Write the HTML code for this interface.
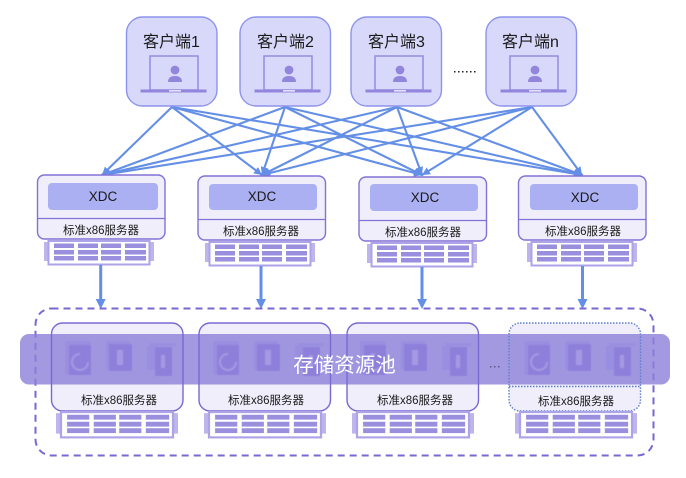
<!DOCTYPE html>
<html><head><meta charset="utf-8"><style>
html,body{margin:0;padding:0;background:#fff;width:686px;height:478px;overflow:hidden}
svg{display:block}
text{font-family:"Liberation Sans","Noto Sans CJK SC",sans-serif;fill:#1a1a1a}
.c{font-size:16px;text-anchor:middle}
.x{font-size:13.5px;text-anchor:middle}
.s{font-size:11.5px;text-anchor:middle}
</style></head><body>
<svg width="686" height="478" viewBox="0 0 686 478" xmlns="http://www.w3.org/2000/svg">
<defs>
<marker id="ah" markerUnits="userSpaceOnUse" markerWidth="10" markerHeight="10" refX="8" refY="4" orient="auto">
  <path d="M0 0L8 4L0 8z" fill="#648fe6"/>
</marker>
<filter id="soft" x="-5%" y="-5%" width="110%" height="110%"><feGaussianBlur stdDeviation="0.5"/></filter>
<symbol id="lap" width="70" height="40" viewBox="0 0 70 40" overflow="visible">
  <rect x="10" y="1" width="48" height="34" fill="none" stroke="#9c90e2" stroke-width="1.6"/>
  <rect x="0.5" y="34.5" width="66" height="3" fill="#9286dc"/>
  <rect x="29" y="35" width="12" height="1.6" fill="#e4e2fa"/>
  <circle cx="35" cy="15" r="4.4" fill="#9286dc"/>
  <path d="M28 27 q0-6 7-6 q7 0 7 6 z" fill="#9286dc"/>
</symbol>
<symbol id="srv" width="110" height="26" viewBox="0 0 110 26">
  <rect x="0" y="2" width="4" height="19" fill="#bdb5ec"/>
  <rect x="106" y="2" width="4" height="19" fill="#bdb5ec"/>
  <rect x="4.5" y="1" width="101" height="23.500" fill="#fff" stroke="#ada3e8" stroke-width="2"/>
  <g fill="#9a8ede">
    <rect x="10" y="3.500" width="20" height="4.500"/><rect x="34" y="3.500" width="20" height="4.500"/><rect x="57" y="3.500" width="20" height="4.500"/><rect x="81" y="3.500" width="21" height="4.500"/>
    <rect x="10" y="10" width="20" height="4.500"/><rect x="34" y="10" width="20" height="4.500"/><rect x="57" y="10" width="20" height="4.500"/><rect x="81" y="10" width="21" height="4.500"/>
    <rect x="10" y="16" width="20" height="4.500"/><rect x="34" y="16" width="20" height="4.500"/><rect x="57" y="16" width="20" height="4.500"/><rect x="81" y="16" width="21" height="4.500"/>
  </g>
</symbol>
<symbol id="icons" width="112" height="37" viewBox="0 0 112 37">
  <g fill="#8e80da" filter="url(#soft)">
    <rect x="0" y="1" width="26" height="34" rx="2" fill="#9a8ee0"/>
    <rect x="4" y="5" width="22" height="30" rx="1"/>
    <path d="M15 14a8 8 0 1 0 8 8" fill="none" stroke="#a599e4" stroke-width="2"/>
    <rect x="41" y="1" width="24" height="29" rx="2" fill="#9a8ee0"/>
    <rect x="44" y="4" width="23" height="27" rx="1"/>
    <rect x="52" y="10" width="6" height="15" fill="#a599e4"/>
    <rect x="82" y="6" width="8" height="24" fill="#9a8ee0"/>
    <rect x="90" y="7" width="17" height="29"/>
    <rect x="96" y="15" width="4" height="13" fill="#a599e4"/>
    <rect x="85" y="3" width="26" height="3" fill="#9a8ee0"/>
  </g>
</symbol>
</defs>

<!-- connectors -->
<g stroke="#648fe6" stroke-width="2.100" fill="none" stroke-linecap="round" marker-end="url(#ah)">
  <path d="M172 107L102 175" marker-end="url(#ah)"/><path d="M172 107L262 175" marker-end="url(#ah)"/><path d="M172 107L422 175" marker-end="url(#ah)"/><path d="M172 107L582 175" marker-end="url(#ah)"/>
  <path d="M285 107L102 175" marker-end="url(#ah)"/><path d="M285 107L262 175" marker-end="url(#ah)"/><path d="M285 107L422 175" marker-end="url(#ah)"/><path d="M285 107L582 175" marker-end="url(#ah)"/>
  <path d="M397 107L102 175" marker-end="url(#ah)"/><path d="M397 107L262 175" marker-end="url(#ah)"/><path d="M397 107L422 175" marker-end="url(#ah)"/><path d="M397 107L582 175" marker-end="url(#ah)"/>
  <path d="M532 107L102 175" marker-end="url(#ah)"/><path d="M532 107L262 175" marker-end="url(#ah)"/><path d="M532 107L422 175" marker-end="url(#ah)"/><path d="M532 107L582 175" marker-end="url(#ah)"/>
</g>

<!-- clients -->
<g fill="#d8d9fa" stroke="#8d93ec" stroke-width="1.400">
  <rect x="126.500" y="17" width="90.500" height="89" rx="16"/>
  <rect x="240" y="17" width="90.500" height="89" rx="16"/>
  <rect x="351" y="17" width="90.500" height="89" rx="16"/>
  <rect x="486" y="17" width="90.500" height="89" rx="16"/>
</g>
<text class="c" x="171.500" y="47">客户端1</text>
<text class="c" x="285.500" y="47">客户端2</text>
<text class="c" x="396.500" y="47">客户端3</text>
<text class="c" x="530.500" y="47">客户端n</text>
<use href="#lap" x="140" y="55"/>
<use href="#lap" x="254" y="55"/>
<use href="#lap" x="365" y="55"/>
<use href="#lap" x="500" y="55"/>
<g fill="#222"><rect x="454" y="71" width="1.500" height="1.500"/><rect x="458" y="71" width="1.500" height="1.500"/><rect x="462" y="71" width="1.500" height="1.500"/><rect x="466" y="71" width="1.500" height="1.500"/><rect x="470" y="71" width="1.500" height="1.500"/><rect x="474" y="71" width="1.500" height="1.500"/></g>

<!-- XDC -->
<g fill="#f0eefb" stroke="#8471d6" stroke-width="1.400">
  <rect x="37.500" y="175" width="127.500" height="64" rx="7"/>
  <rect x="198" y="176" width="127.500" height="64" rx="7"/>
  <rect x="359" y="177" width="127.500" height="64" rx="7"/>
  <rect x="518.500" y="176" width="127.500" height="64" rx="7"/>
</g>
<g stroke="#8471d6" stroke-width="1.200">
  <path d="M38 218.500H165M198 219.500H325M359 220.500H486M519 219.500H646"/>
</g>
<g fill="#abb0f2">
  <rect x="48" y="183" width="110" height="27" rx="4"/>
  <rect x="209" y="184" width="108" height="26" rx="4"/>
  <rect x="370" y="184" width="108" height="27" rx="4"/>
  <rect x="530" y="184" width="108" height="26" rx="4"/>
</g>
<text class="x" x="103" y="201">XDC</text>
<text class="x" x="262" y="201">XDC</text>
<text class="x" x="425" y="202">XDC</text>
<text class="x" x="585" y="202">XDC</text>
<text class="s" x="101" y="234">标准x86服务器</text>
<text class="s" x="261" y="235">标准x86服务器</text>
<text class="s" x="423" y="236">标准x86服务器</text>
<text class="s" x="583" y="235">标准x86服务器</text>
<use href="#srv" x="44" y="240"/>
<use href="#srv" x="205" y="241"/>
<use href="#srv" x="367" y="242"/>
<use href="#srv" x="527" y="241"/>

<!-- down arrows -->
<g stroke="#648fe6" stroke-width="3" fill="none">
  <path d="M100.700 265V301M261 266V301M422 267V301M582.500 266V301"/>
</g>
<g fill="#648fe6">
  <path d="M95.700 299H105.700L100.700 309z"/>
  <path d="M256 299H266L261 309z"/>
  <path d="M417 299H427L422 309z"/>
  <path d="M577.500 299H587.500L582.500 309z"/>
</g>

<!-- storage pool -->
<rect x="35.500" y="308.500" width="618" height="147" rx="16" fill="none" stroke="#7a68d2" stroke-width="2" stroke-dasharray="7 5"/>
<g fill="#f0eefb">
  <rect x="51.500" y="323" width="131.500" height="88" rx="11"/>
  <rect x="199" y="323" width="131.500" height="88" rx="11"/>
  <rect x="347" y="323" width="131.500" height="88" rx="11"/>
  <rect x="509" y="323" width="131.500" height="88" rx="11"/>
</g>
<rect x="20" y="334" width="650" height="50.500" rx="9" fill="#8c80da" fill-opacity=".8"/>
<g fill="none" stroke="#7a68d2" stroke-width="1.400">
  <rect x="51.500" y="323" width="131.500" height="88" rx="11"/>
  <rect x="199" y="323" width="131.500" height="88" rx="11"/>
  <rect x="347" y="323" width="131.500" height="88" rx="11"/>
</g>
<g fill="none" stroke="#5f7fcb" stroke-width="1.400" stroke-dasharray="1.500 1.500">
  <rect x="509" y="323" width="131.500" height="88" rx="11"/>
  <path d="M509 386.500H640.500"/>
</g>
<use href="#icons" x="65" y="340"/>
<use href="#icons" x="213" y="340"/>
<use href="#icons" x="360" y="340"/>
<use href="#icons" x="524" y="340"/>
<text x="344.500" y="372" style="font-size:20.500px;text-anchor:middle;fill:#fff">存储资源池</text>
<g fill="#5b5b8c"><rect x="490" y="366" width="1.500" height="1.500"/><rect x="494" y="366" width="1.500" height="1.500"/><rect x="498" y="366" width="1.500" height="1.500"/></g>
<text class="s" x="119" y="404">标准x86服务器</text>
<text class="s" x="266" y="404">标准x86服务器</text>
<text class="s" x="415" y="404">标准x86服务器</text>
<text class="s" x="576" y="405">标准x86服务器</text>
<svg x="56" y="411" width="122" height="28" viewBox="0 0 110 26" preserveAspectRatio="none"><use href="#srv"/></svg>
<svg x="204" y="411" width="122" height="28" viewBox="0 0 110 26" preserveAspectRatio="none"><use href="#srv"/></svg>
<svg x="352" y="411" width="122" height="28" viewBox="0 0 110 26" preserveAspectRatio="none"><use href="#srv"/></svg>
<svg x="515" y="411" width="122" height="28" viewBox="0 0 110 26" preserveAspectRatio="none"><use href="#srv"/></svg>
</svg>
</body></html>
